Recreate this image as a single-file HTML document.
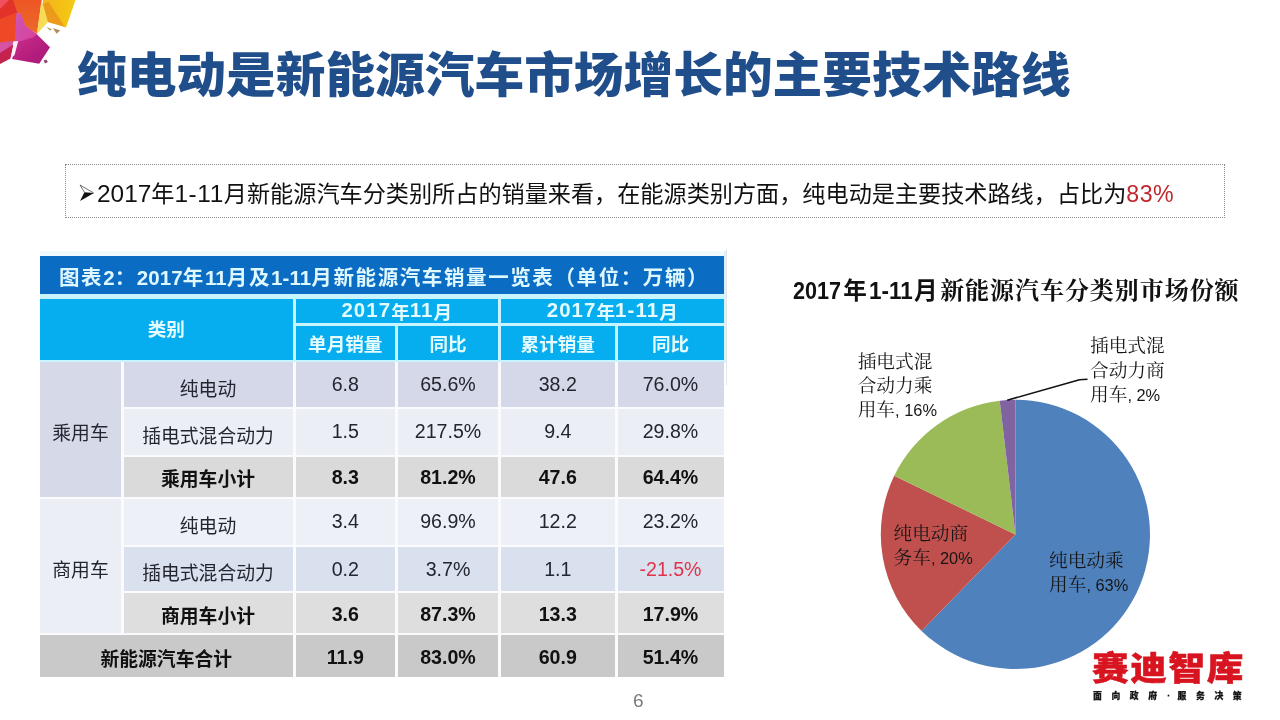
<!DOCTYPE html>
<html lang="zh-CN">
<head>
<meta charset="utf-8">
<title>纯电动是新能源汽车市场增长的主要技术路线</title>
<style>
html,body{margin:0;padding:0;background:#fff;}
body{width:1280px;height:720px;position:relative;overflow:hidden;
  font-family:"Liberation Sans","Noto Sans CJK SC",sans-serif;color:#1a1a1a;}
.abs{position:absolute;}
#title{left:77px;top:38.6px;font-size:49.7px;font-weight:900;transform:scaleY(0.97);transform-origin:0 10.5px;color:#1f4e8a;white-space:nowrap;line-height:74px;letter-spacing:0;}
#box{left:65px;top:163.5px;width:1158px;height:52.5px;border:1px dotted #8a8a8a;}
#lead{left:97px;top:177px;font-size:23.15px;line-height:34px;white-space:nowrap;color:#111;}
#lead .r{color:#c0272d;letter-spacing:0.5px;}
#lead .d{font-size:24.4px;letter-spacing:0;line-height:20px;}
#pageno{left:633px;top:689.5px;font-size:19px;color:#7a7a7a;line-height:22px;}

/* table */
#tbl{left:40px;top:256px;width:683.5px;height:421px;background:#fbfbfd;filter:blur(0.35px);}
#tbl div{position:absolute;box-sizing:border-box;display:flex;align-items:center;justify-content:center;white-space:nowrap;}
.tt{background:#0a6cc3;color:#dff8ff;font-weight:700;font-size:20.5px;letter-spacing:1.6px;padding-top:2px;}
.tt .d{letter-spacing:0.1px;}
.hd{background:#06aeef;color:#e4fbff;font-weight:700;font-size:18.6px;}
.c{font-size:18.8px;color:#23252f;}
.k{padding-top:5px;}
.b.k{padding-top:2px;}
.b.n{padding-top:2px;}
.n{font-size:19.6px;}
.hd .d{font-size:20.4px;letter-spacing:1.1px;}
.b{font-weight:700;color:#111;}
.hl{background:#c8f4ff;}
.ga{background:#d6d9e8;}
.gb{background:#eceef6;}
.neg{color:#e0344a !important;}
.g1{background:#d4d8e9;}
.g2{background:#eceef6;}
.g3{background:#dadada;}
.g4{background:#eef0f8;}
.g5{background:#d9e0ee;}
.g6{background:#dedede;}
.g7{background:#c9c9c9;}

#logo{-webkit-text-stroke:0.6px #d7141f;left:1092px;top:647.3px;font-size:36.6px;line-height:48px;font-weight:900;color:#d7141f;letter-spacing:1.7px;transform:scaleY(0.91);transform-origin:0 8px;white-space:nowrap;font-family:"Liberation Sans","Noto Sans CJK SC",sans-serif;}
#tag{-webkit-text-stroke:0.25px #161616;left:1093px;top:689px;font-size:8.8px;line-height:14px;font-weight:900;color:#161616;letter-spacing:9.6px;white-space:nowrap;font-family:"Liberation Sans","Noto Sans CJK SC",sans-serif;}
#tag .dot{display:inline-block;width:11px;letter-spacing:0;text-align:center;position:relative;left:-3.5px;}
/* pie */
.pl{font-family:"Liberation Serif","Noto Serif CJK SC",serif;font-size:18.7px;line-height:24.3px;color:#161616;white-space:nowrap;}
.pl .n{font-family:"Liberation Sans",sans-serif;font-size:16.4px;}
#ptitle .d{display:inline-block;letter-spacing:0;font-size:24.8px;transform-origin:0 50%;}
#ptitle .s{font-family:"Liberation Sans","Noto Sans CJK SC",sans-serif;font-size:23.6px;letter-spacing:0;}
#ptitle{left:792.8px;top:275.2px;font-size:24px;letter-spacing:0.95px;font-weight:700;line-height:32px;white-space:nowrap;color:#111;font-family:"Liberation Sans","Noto Serif CJK SC",serif;}
</style>
</head>
<body>
<svg class="abs" id="deco" style="left:0;top:0" width="110" height="80" viewBox="0 0 110 80">
<defs>
<linearGradient id="gp" x1="0" y1="0" x2="1" y2="1"><stop offset="0" stop-color="#cf55b4"/><stop offset="1" stop-color="#d7409a"/></linearGradient>
<linearGradient id="gm" x1="0" y1="0" x2="1" y2="1"><stop offset="0" stop-color="#d0308e"/><stop offset="0.5" stop-color="#b8207f"/><stop offset="1" stop-color="#a61c74"/></linearGradient>
<linearGradient id="gy" x1="0" y1="0" x2="1" y2="0"><stop offset="0" stop-color="#f2b21c"/><stop offset="1" stop-color="#f5cb12"/></linearGradient>
<linearGradient id="go" x1="0" y1="0" x2="0" y2="1"><stop offset="0" stop-color="#ee5626"/><stop offset="1" stop-color="#ea6a2a"/></linearGradient>
<filter id="bl"><feGaussianBlur stdDeviation="0.45"/></filter>
</defs>
<g filter="url(#bl)">
<polygon points="0,0 19,0 18,13 0,22" fill="#e3302c"/>
<polygon points="0,0 9,0 0,9" fill="#f0505c"/>
<polygon points="13,0 41.8,0 37,33.8 25,26.5 20.5,14.5 17,12" fill="url(#go)"/>
<polygon points="0,19 17,12.5 15.5,41 0,45" fill="#ee4a25"/>
<polygon points="16.5,12.5 21,14 25.5,26 37,34 37.5,35.5 17,43 14.8,41.5" fill="url(#gp)"/>
<polygon points="41.3,1 48,22 37,34" fill="#f6dd55"/>
<polygon points="43,0 75.5,0 66,27.5 48,22 42.5,4" fill="url(#gy)"/>
<polygon points="43,4 48.5,2 64.5,26.5 48,22" fill="#ec9a1f"/>
<polygon points="46.5,27 51.8,29 50,30.8" fill="#b7a352"/>
<polygon points="53,28 60.2,30.6 56.5,33.8" fill="#b08e5c"/>
<polygon points="0,42.5 13.5,41 12,48 0,57" fill="#d452a2"/>
<polygon points="0,53 13.5,44.5 10.5,58.5 0,64" fill="#c3244f"/>
<polygon points="37,34.5 50,47.2 39.2,63.8 12,59 17.5,42 33,37" fill="url(#gm)"/>
<polygon points="14.2,41.5 18.2,41 14.6,55 10.6,58.6" fill="#fdeef8"/>
<polygon points="43.5,60.6 46.2,59.4 48,62 45,63.6" fill="#8d4a78"/>
</g>
</svg>

<div class="abs" id="title">纯电动是新能源汽车市场增长的主要技术路线</div>

<div class="abs" id="box"></div>
<svg class="abs" style="left:79px;top:184px" width="17" height="18" viewBox="0 0 17 18"><path d="M5.4 8.3 L14.9 9.1 L1.1 16.9 Z" fill="#111"/><path d="M1 1 L14.8 9 M1 1 L5.6 8.5" fill="none" stroke="#333" stroke-width="0.7"/></svg>
<div class="abs" id="lead"><span class="d">2017</span>年<span class="d" style="letter-spacing:0.6px">1-11</span>月新能源汽车分类别所占的销量来看，在能源类别方面，纯电动是主要技术路线，占比为<span class="r">83%</span></div>

<div class="abs" style="left:40px;top:250.5px;width:685.5px;height:6px;background:#eff9fe"></div>
<div class="abs" style="left:723.5px;top:250.5px;width:2px;height:112px;background:#d6f1ff"></div>
<div class="abs" style="left:725.7px;top:249px;width:1px;height:136px;background:#e4e6ea"></div>
<div class="abs" id="tbl">
<div class="tt" style="left:0px;top:0px;width:683.5px;height:38px;justify-content:flex-start;padding-left:19px;"><span>图表<span class="d">2</span>：<span class="d">2017</span>年<span class="d">11</span>月及<span class="d">1-11</span>月新能源汽车销量一览表（单位：万辆）</span></div>
<div class="hl" style="left:0px;top:38px;width:683.5px;height:68px;"></div>
<div class="hd" style="left:0px;top:43px;width:252.5px;height:60.5px;padding-bottom:4px;">类别</div>
<div class="hd" style="left:255.5px;top:43px;width:202.5px;height:23.5px;"><span class="d">2017</span>年<span class="d">11</span>月</div>
<div class="hd" style="left:461px;top:43px;width:222.5px;height:23.5px;"><span class="d">2017</span>年<span class="d">1-11</span>月</div>
<div class="hd" style="left:255.5px;top:69.5px;width:99.5px;height:34px;">单月销量</div>
<div class="hd" style="left:358px;top:69.5px;width:100px;height:34px;">同比</div>
<div class="hd" style="left:461px;top:69.5px;width:113.5px;height:34px;">累计销量</div>
<div class="hd" style="left:577.5px;top:69.5px;width:106px;height:34px;">同比</div>
<div class="c ga k" style="left:0px;top:106px;width:81px;height:134.5px;">乘用车</div>
<div class="c gb k" style="left:0px;top:242.5px;width:81px;height:134.5px;">商用车</div>
<div class="c g1 k" style="left:83.5px;top:106px;width:169px;height:45px;">纯电动</div>
<div class="c g1 n" style="left:255.5px;top:106px;width:99.5px;height:45px;">6.8</div>
<div class="c g1 n" style="left:358px;top:106px;width:100px;height:45px;">65.6%</div>
<div class="c g1 n" style="left:461px;top:106px;width:113.5px;height:45px;">38.2</div>
<div class="c g1 n" style="left:577.5px;top:106px;width:106px;height:45px;">76.0%</div>
<div class="c g2 k" style="left:83.5px;top:153px;width:169px;height:45.5px;">插电式混合动力</div>
<div class="c g2 n" style="left:255.5px;top:153px;width:99.5px;height:45.5px;">1.5</div>
<div class="c g2 n" style="left:358px;top:153px;width:100px;height:45.5px;">217.5%</div>
<div class="c g2 n" style="left:461px;top:153px;width:113.5px;height:45.5px;">9.4</div>
<div class="c g2 n" style="left:577.5px;top:153px;width:106px;height:45.5px;">29.8%</div>
<div class="c g3 b k" style="left:83.5px;top:200.5px;width:169px;height:40px;">乘用车小计</div>
<div class="c g3 b n" style="left:255.5px;top:200.5px;width:99.5px;height:40px;">8.3</div>
<div class="c g3 b n" style="left:358px;top:200.5px;width:100px;height:40px;">81.2%</div>
<div class="c g3 b n" style="left:461px;top:200.5px;width:113.5px;height:40px;">47.6</div>
<div class="c g3 b n" style="left:577.5px;top:200.5px;width:106px;height:40px;">64.4%</div>
<div class="c g4 k" style="left:83.5px;top:242.5px;width:169px;height:46.5px;">纯电动</div>
<div class="c g4 n" style="left:255.5px;top:242.5px;width:99.5px;height:46.5px;">3.4</div>
<div class="c g4 n" style="left:358px;top:242.5px;width:100px;height:46.5px;">96.9%</div>
<div class="c g4 n" style="left:461px;top:242.5px;width:113.5px;height:46.5px;">12.2</div>
<div class="c g4 n" style="left:577.5px;top:242.5px;width:106px;height:46.5px;">23.2%</div>
<div class="c g5 k" style="left:83.5px;top:291px;width:169px;height:44px;">插电式混合动力</div>
<div class="c g5 n" style="left:255.5px;top:291px;width:99.5px;height:44px;">0.2</div>
<div class="c g5 n" style="left:358px;top:291px;width:100px;height:44px;">3.7%</div>
<div class="c g5 n" style="left:461px;top:291px;width:113.5px;height:44px;">1.1</div>
<div class="c g5 neg n" style="left:577.5px;top:291px;width:106px;height:44px;">-21.5%</div>
<div class="c g6 b k" style="left:83.5px;top:337px;width:169px;height:40px;">商用车小计</div>
<div class="c g6 b n" style="left:255.5px;top:337px;width:99.5px;height:40px;">3.6</div>
<div class="c g6 b n" style="left:358px;top:337px;width:100px;height:40px;">87.3%</div>
<div class="c g6 b n" style="left:461px;top:337px;width:113.5px;height:40px;">13.3</div>
<div class="c g6 b n" style="left:577.5px;top:337px;width:106px;height:40px;">17.9%</div>
<div class="c g7 b k" style="left:0px;top:379px;width:252.5px;height:42px;">新能源汽车合计</div>
<div class="c g7 b n" style="left:255.5px;top:379px;width:99.5px;height:42px;">11.9</div>
<div class="c g7 b n" style="left:358px;top:379px;width:100px;height:42px;">83.0%</div>
<div class="c g7 b n" style="left:461px;top:379px;width:113.5px;height:42px;">60.9</div>
<div class="c g7 b n" style="left:577.5px;top:379px;width:106px;height:42px;">51.4%</div>
</div>

<svg class="abs" style="left:0;top:0" width="1280" height="720" viewBox="0 0 1280 720">
<path d="M1015.4 534.4 L1015.40 399.80 A134.6 134.6 0 1 1 921.56 630.90 Z" fill="#4f81bd"/>
<path d="M1015.4 534.4 L921.56 630.90 A134.6 134.6 0 0 1 894.22 475.82 Z" fill="#c0504d"/>
<path d="M1015.4 534.4 L894.22 475.82 A134.6 134.6 0 0 1 999.70 400.72 Z" fill="#9bbb59"/>
<path d="M1015.4 534.4 L999.70 400.72 A134.6 134.6 0 0 1 1015.40 399.80 Z" fill="#8064a2"/>
<polyline points="1007.2,400.2 1079.5,379.8 1087.5,379.2" fill="none" stroke="#111" stroke-width="1.6" stroke-linejoin="round"/>
</svg>
<div class="abs pl" style="left:1049px;top:548.5px">纯电动乘<br>用车<span class="n">, 63%</span></div>
<div class="abs pl" style="left:893.5px;top:522px">纯电动商<br>务车<span class="n">, 20%</span></div>
<div class="abs pl" style="left:857.7px;top:349.5px">插电式混<br>合动力乘<br>用车<span class="n">, 16%</span></div>
<div class="abs pl" style="left:1090px;top:334.3px">插电式混<br>合动力商<br>用车<span class="n">, 2%</span></div>
<div class="abs" id="ptitle"><span class="d" style="width:48px;transform:scaleX(0.87)">2017</span><span class="s" style="margin-left:2.5px">年</span><span class="d" style="width:45px;transform:scaleX(0.907);margin-left:2.1px">1-11</span><span class="s" style="margin-left:0.1px">月</span><span style="margin-left:2.5px">新能源汽车分类别市场份额</span></div>

<div class="abs" id="logo">赛迪智库</div>
<div class="abs" id="tag">面向政府<span class="dot">·</span>服务决策</div>
<div class="abs" id="pageno">6</div>
</body>
</html>
